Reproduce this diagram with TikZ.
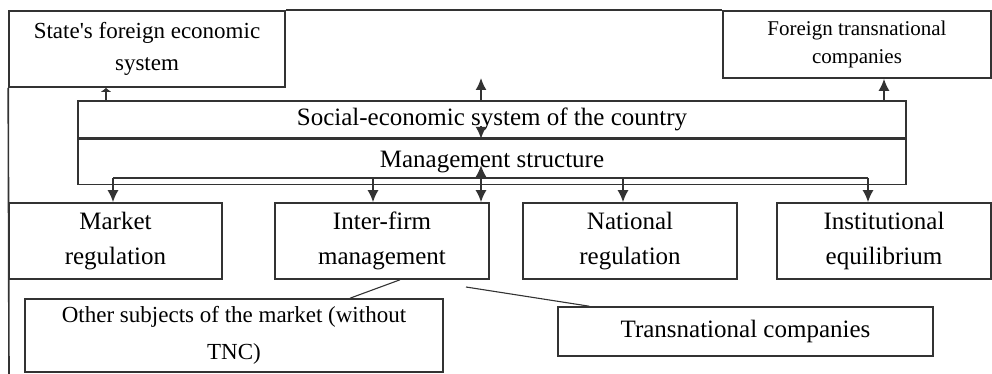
\documentclass[tikz,border=0pt]{standalone}
\usepackage{fontspec}
\setmainfont{Liberation Serif}
\usetikzlibrary{arrows.meta,positioning,calc}

\begin{document}
\begin{tikzpicture}[x=1pt,y=-1pt,>={Latex[length=12pt,width=11pt]},
  box/.style={draw=black!80,line width=1.6pt,inner sep=0pt,align=center,font=\fontsize{25}{35}\selectfont},
  link/.style={draw=black!80,line width=1.6pt}]
\useasboundingbox (0,0) rectangle (992,374);

% top row
\node[box,minimum width=276pt,minimum height=76pt,font=\fontsize{23}{32}\selectfont] (state) at (147,49) {State\textquotesingle s foreign economic\\system};
\node[box,minimum width=268pt,minimum height=67pt,font=\fontsize{21}{28}\selectfont] (foreign) at (857,44.5) {Foreign transnational\\companies};

% country system
\node[box,minimum width=828pt,minimum height=37pt] (social) at (492,119.5) {Social-economic system of the country};
\node[box,minimum width=828pt,minimum height=45pt,below=0pt of social] (mgmt) {Management structure};

% bottom row
\node[box,minimum width=213pt,minimum height=76pt] (market) at (115.5,241) {Market\\regulation};
\node[box,minimum width=214pt,minimum height=76pt] (inter) at (382,241) {Inter-firm\\management};
\node[box,minimum width=214pt,minimum height=76pt] (national) at (630,241) {National\\regulation};
\node[box,minimum width=214pt,minimum height=76pt] (inst) at (884,241) {Institutional\\equilibrium};

\node[box,minimum width=418pt,minimum height=73pt,font=\fontsize{23}{37}\selectfont] (other) at (234,335.5) {Other subjects of the market (without\\TNC)};
\node[box,minimum width=375pt,minimum height=49pt] (tnc) at (745.5,331.5) {Transnational companies};

% frame
\coordinate (framebot) at (9,374);
\draw[link] (state.south west) -- (framebot);
\draw[link] (state.north east) -- (foreign.north west);

% arrows up
\coordinate (axis) at (481,78);
\draw[link,->,>={Latex[length=4pt,width=11pt]}] ([xshift=-41]state.south|-social.north) -- ([xshift=-41]state.south);
\draw[link,->] ([xshift=27]foreign.south|-social.north) -- ([xshift=27]foreign.south);
\draw[link,->] (axis|-social.north) -- (axis);
\draw[link,->] ($(axis|-social.south)+(0,-13)$) -- (axis|-social.south);
\draw[link,<->] ($(axis|-mgmt.center)+(0,3)$) -- (axis|-inter.north);

% distribution
\coordinate (busL) at (113,178);
\coordinate (busR) at (868,178);
\draw[link] (busL) -- (busR);
\draw[link,->] (busL) -- (busL|-market.north);
\draw[link,->] ([xshift=-9]inter.north|-busL) -- ([xshift=-9]inter.north);
\draw[link,->] ([xshift=-7]national.north|-busL) -- ([xshift=-7]national.north);
\draw[link,->] (busR) -- (busR|-inst.north);

% subjects
\coordinate (tnclink) at (466,287);
\draw[link,line width=1.1pt] ([xshift=18]inter.south) -- ([xshift=116]other.north);
\draw[link,line width=1.1pt] (tnclink) -- ([xshift=32]tnc.north west);
\end{tikzpicture}
\end{document}
